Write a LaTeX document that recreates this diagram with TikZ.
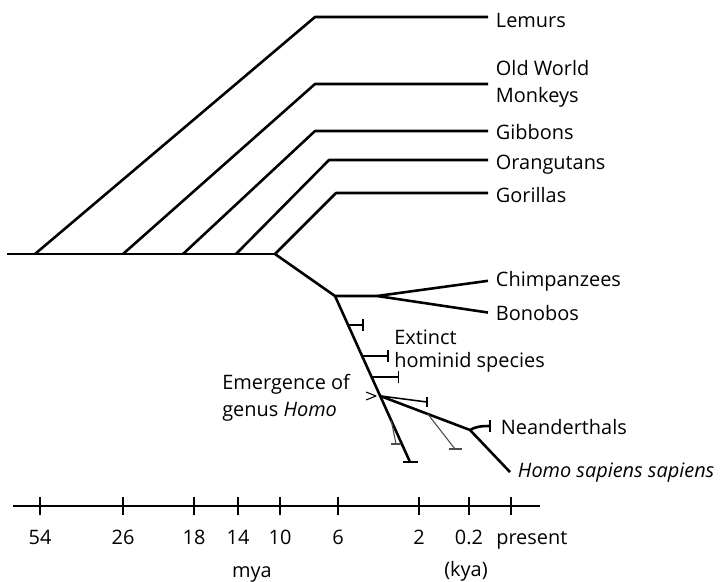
\documentclass[tikz,border=0pt]{standalone}
\usepackage{fontspec}
\setmainfont{Open Sans}
\usetikzlibrary{calc}

\begin{document}
\begin{tikzpicture}[x=0.03cm, y=-0.03cm, line width=2.2pt, line join=round,
    every node/.style={inner sep=0pt, font=\fontsize{17}{23}\selectfont},
    taxon/.style={anchor=base west, inner xsep=0.2cm},
    note/.style={anchor=west, align=left},
    stub/.style={line width=1.3pt},
    faint/.style={line width=0.9pt, black!70},
    axtick/.style={line width=1pt}]

    \useasboundingbox (0,0) rectangle (724,581);

    % ---------- taxa ----------
    \node[taxon] (lem) at (488,27) {Lemurs};
    \node[taxon, anchor=west, align=left] (owm) at (488,83.5) {Old World\\Monkeys};
    \node[taxon] (gib) at (488,139) {Gibbons};
    \node[taxon] (ora) at (488,169) {Orangutans};
    \node[taxon] (gor) at (488,202) {Gorillas};
    \node[taxon] (chi) at (488,286) {Chimpanzees};
    \node[taxon] (bon) at (488,320) {Bonobos};
    \node[taxon] (nea) at (493,434) {Neanderthals};
    \node[taxon] (hss) at (510,477) {\itshape Homo sapiens sapiens};

    % ---------- primate stem and outgroups ----------
    \coordinate (root) at (7,254);
    \coordinate (jn) at (275,254);
    \draw (root) -- (jn);
    \foreach \bx/\kx/\ky/\lab in {35/315/17/lem, 123/315/84/owm, 183/315/131/gib,
                                  236/329/160/ora, 275/336/193/gor}
      \draw (\bx,254) -- (\kx,\ky) -- (\kx,\ky -| \lab.west);

    % ---------- chimps / bonobos ----------
    \coordinate (hc) at (335,296);
    \coordinate (pan) at (377,296);
    \draw (jn) -- (hc) -- (pan) -- (chi.west);
    \draw (pan) -- (bon.west);

    % ---------- hominid trunk ----------
    \coordinate (tip) at (410,462);
    \draw (hc) -- (tip);
    \draw ($(tip)+(-7,0)$) -- ($(tip)+(8,0)$);

    % extinct side lineages
    \foreach \t/\len [count=\i] in {0.175/15, 0.362/26, 0.488/27} {
      \coordinate (x\i) at ($(hc)!\t!(tip)$);
      \draw[stub] (x\i) -- ++(\len,0) coordinate (x\i e);
      \draw[stub] ($(x\i e)+(0,-6)$) -- ($(x\i e)+(0,6)$);
    }

    % ---------- genus Homo ----------
    \coordinate (hom) at ($(hc)!0.602!(tip)$);
    \coordinate (nd) at (470,430);
    \draw (hom) -- (nd) -- (hss.west);

    \coordinate (x4e) at (427,402);
    \draw[stub] (hom) -- (x4e);
    \draw[stub] ($(x4e)+(0,-5)$) -- ($(x4e)+(0,5)$);

    % Neanderthals
    \coordinate (nde) at (490,426);
    \draw (nd) .. controls (477,426) and (483,426) .. (nde);
    \draw[stub] ($(nde)+(0,-6)$) -- ($(nde)+(0,6)$);

    % faint lineages
    \coordinate (f1) at ($(hom)!0.53!(nd)$);
    \coordinate (f1e) at (455,449);
    \draw[faint] (f1) -- (f1e);
    \draw[faint] ($(f1e)+(-6,0)$) -- ($(f1e)+(7,0)$);
    \coordinate (f2) at ($(hc)!0.75!(tip)$);
    \coordinate (f2e) at (396,444);
    \draw[faint] (f2) -- (f2e);
    \draw[faint] ($(f2e)+(-5,0)$) -- ($(f2e)+(5,0)$);

    % pointer to emergence of Homo
    \coordinate (ptr) at (376,396);
    \draw[line width=0.9pt] ($(ptr)+(-10,-4)$) -- (ptr) -- ($(ptr)+(-10,4)$);

    % ---------- notes ----------
    \node[note, font=\fontsize{17}{19}\selectfont] (ext) at (393,351) {Extinct\\hominid species};
    \node[note] (emg) at (221,398) {Emergence of\\genus \textit{Homo}};

    % ---------- time axis ----------
    \coordinate (ax0) at (13,506);
    \coordinate (ax1) at (540,506);
    \draw[line width=1.5pt] (ax0) -- (ax1);
    \foreach \x/\lab [count=\i] in {40/54, 123/26, 194/18, 238/14, 280/10,
                                    338/6, 419/2, 469/0.2} {
      \draw[axtick] (\x,497) -- (\x,515);
      \node[anchor=base] (t\i) at (\x,544) {\lab};
    }
    \draw[axtick] (511,497) -- (511,515);
    \node[anchor=base west] (tnow) at (495,544) {present};
    \node[anchor=base] (mya) at (252,577) {mya};
    \node[anchor=base] (kya) at (466,576) {(kya)};

\end{tikzpicture}
\end{document}
